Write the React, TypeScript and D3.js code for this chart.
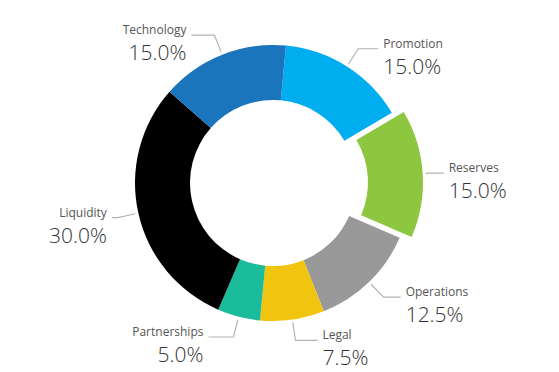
import React from "react";
import * as d3 from "d3";

const categories = ["Promotion", "Reserves", "Operations", "Legal", "Partnerships", "Liquidity", "Technology"];
const values = [15.0, 15.0, 12.5, 7.5, 5.0, 30.0, 15.0];
const colors = ["#00aeef", "#8dc63f", "#999999", "#f1c40f", "#1abc9c", "#000000", "#1b75bc"];
const exploded = ["Reserves"];

const W = 559;
const H = 372;
const CX = 273;
const CY = 183;
const R = 138;
const RI = 83;
const START = (5.4 * Math.PI) / 180;
const EXPLODE = 12;
const hLen: Record<string, number> = {
  Liquidity: 6,
  Reserves: 15,
  Operations: 17,
  Partnerships: 25,
  Technology: 23,
  Promotion: 20,
  Legal: 22,
};

export default function App() {
  const pie = d3
    .pie<number>()
    .sort(null)
    .value((d) => d)
    .startAngle(START)
    .endAngle(START + 2 * Math.PI);
  const arcs = pie(values);
  const arc = d3.arc<d3.PieArcDatum<number>>().innerRadius(RI).outerRadius(R);
  const font = "'Open Sans', 'Noto Sans', sans-serif";

  return (
    <div style={{ position: "fixed", left: 0, top: 0 }}>
      <svg width={W} height={H} style={{ display: "block", background: "#fff" }}>
        <g transform={`translate(${CX},${CY})`}>
          {arcs.map((a, i) => {
            const mid = (a.startAngle + a.endAngle) / 2;
            const off = exploded.includes(categories[i]) ? EXPLODE : 0;
            const ox = Math.sin(mid) * off;
            const oy = -Math.cos(mid) * off;
            return (
              <path key={categories[i]} d={arc(a) || ""} fill={colors[i]} transform={`translate(${ox},${oy})`} />
            );
          })}
          {arcs.map((a, i) => {
            const mid = (a.startAngle + a.endAngle) / 2;
            const off = exploded.includes(categories[i]) ? EXPLODE : 0;
            const ox = Math.sin(mid) * off;
            const oy = -Math.cos(mid) * off;
            const p1 = [ox + Math.sin(mid) * (R + 3), oy - Math.cos(mid) * (R + 3)];
            const er = categories[i] === "Reserves" ? R + 6 : R + 21;
            const p2 = [ox + Math.sin(mid) * er, oy - Math.cos(mid) * er];
            const right = Math.sin(mid) >= 0;
            const len = hLen[categories[i]] ?? 22;
            const p3 = [p2[0] + (right ? len : -len), p2[1]];
            const tx = p3[0] + (right ? 5 : -5);
            const anchor = right ? "start" : "end";
            return (
              <g key={"l" + categories[i]}>
                <polyline
                  points={[p1, p2, p3].map((p) => p.join(",")).join(" ")}
                  fill="none"
                  stroke="#b3b3b3"
                  strokeWidth={1.2}
                />
                <text x={tx} y={p3[1] - 1} textAnchor={anchor} fontFamily={font} fontSize={12} fill="#555">
                  {categories[i]}
                </text>
                <text
                  x={tx}
                  y={p3[1] + 25}
                  textAnchor={anchor}
                  fontFamily={font}
                  fontWeight={300}
                  fontSize={21}
                  fill="#333"
                >
                  {d3.format(".1f")(values[i])}%
                </text>
              </g>
            );
          })}
        </g>
      </svg>
    </div>
  );
}
